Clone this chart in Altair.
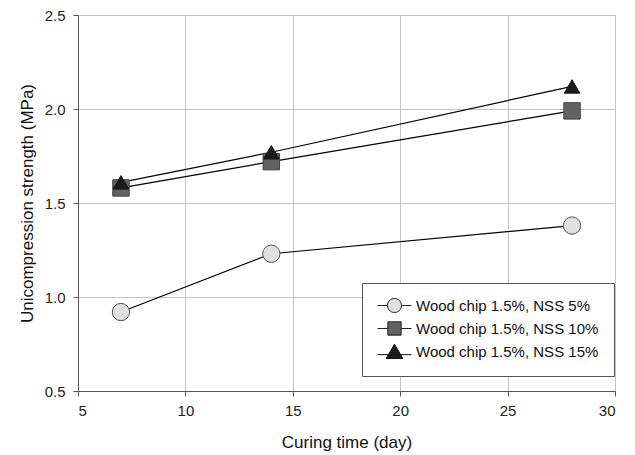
import altair as alt
import pandas as pd

days = [7, 14, 28]
series_names = ["Wood chip 1.5%, NSS 5%", "Wood chip 1.5%, NSS 10%", "Wood chip 1.5%, NSS 15%"]
nss5 = [0.92, 1.23, 1.38]
nss10 = [1.58, 1.72, 1.99]
nss15 = [1.61, 1.77, 2.12]

rows = []
for name, vals in zip(series_names, [nss5, nss10, nss15]):
    for d, v in zip(days, vals):
        rows.append({"day": d, "strength": v, "series": name})
df = pd.DataFrame(rows)

fills = ["#e0e0e0", "#626262", "#1c1c1c"]
strokes = ["#555555", "#444444", "#111111"]
FONT = "Liberation Sans"

x = alt.X("day:Q", title="Curing time (day)",
          scale=alt.Scale(domain=[5, 30], nice=False),
          axis=alt.Axis(values=[5, 10, 15, 20, 25, 30]))
y = alt.Y("strength:Q", title="Unicompression strength (MPa)",
          scale=alt.Scale(domain=[0.5, 2.5], nice=False),
          axis=alt.Axis(values=[0.5, 1.0, 1.5, 2.0, 2.5], format=".1f"))

base = alt.Chart(df)

lines = base.mark_line(color="black", strokeWidth=1.2).encode(
    x=x, y=y, detail="series:N"
)

points = base.mark_point(filled=True, opacity=1, strokeWidth=1).encode(
    x=x, y=y,
    shape=alt.Shape("series:N", scale=alt.Scale(domain=series_names,
                    range=["circle", "square", "triangle-up"]), legend=None),
    fill=alt.Fill("series:N", scale=alt.Scale(domain=series_names, range=fills), legend=None),
    stroke=alt.Stroke("series:N", scale=alt.Scale(domain=series_names, range=strokes), legend=None),
    size=alt.Size("series:N", scale=alt.Scale(domain=series_names, range=[300, 240, 400]), legend=None),
)

# legend symbols: unit = 7px (symbolSize 196); symbol centre placed at 7px from entry left,
# so drawn span -1..3.857 units (0..34px), marker centred at 1.4286 units (17px)
c = 1.4286
circle_path = (f"M-1,0L{c-1:.4f},0M{c+1:.4f},0L3.857,0"
               f"M{c-1:.4f},0A1,1,0,1,1,{c+1:.4f},0A1,1,0,1,1,{c-1:.4f},0Z")
square_path = (f"M-1,0L{c-0.95:.4f},0M{c+0.95:.4f},0L3.857,0"
               f"M{c-0.95:.4f},-0.95L{c+0.95:.4f},-0.95L{c+0.95:.4f},0.95L{c-0.95:.4f},0.95Z")
tri_path = (f"M-1,0.45L{c-0.6:.4f},0.45M{c+0.6:.4f},0.45L3.857,0.45"
            f"M{c:.4f},-1.05L{c+1.2:.4f},1.0L{c-1.2:.4f},1.0Z")

legend_props = dict(title=None, orient="none", legendX=284, legendY=268,
                    symbolSize=196, symbolStrokeColor="#222222",
                    symbolStrokeWidth=1, symbolOpacity=1,
                    labelFontSize=15, labelFont=FONT, labelColor="#111111",
                    labelLimit=400, labelOffset=24,
                    strokeColor="#555555", fillColor="white",
                    padding=15, rowPadding=4)

legend_layer = base.transform_filter("datum.day < 0").mark_point(
    filled=True, opacity=1, strokeWidth=1
).encode(
    x=x, y=y,
    shape=alt.Shape("series:N", scale=alt.Scale(domain=series_names,
                    range=[circle_path, square_path, tri_path]),
                    legend=alt.Legend(**legend_props)),
    fill=alt.Fill("series:N", scale=alt.Scale(domain=series_names, range=fills),
                  legend=alt.Legend(**legend_props)),
    stroke=alt.Stroke("series:N", scale=alt.Scale(domain=series_names,
                      range=["#222222", "#222222", "#111111"]),
                      legend=alt.Legend(**legend_props)),
)

chart = alt.layer(lines, points, legend_layer).resolve_scale(
    shape="independent", fill="independent", stroke="independent"
).properties(
    width=537, height=376,
    autosize=alt.AutoSizeParams(type="none"),
    padding={"left": 70, "top": 7, "right": 12, "bottom": 62},
).configure_view(
    stroke="#8a8a8a", strokeWidth=1
).configure_axis(
    gridColor="#c4c4c4", gridWidth=1,
    domainColor="#555555", tickColor="#555555", tickSize=5,
    labelFont=FONT, labelFontSize=15, labelColor="#222222",
    titleFont=FONT, titleFontSize=17, titleFontWeight="normal", titleColor="#111111",
).configure_axisX(
    labelPadding=7, titlePadding=16
).configure_axisY(
    labelPadding=8, titlePadding=8
)

chart.save("out.html", embed_options={"renderer": "svg", "actions": False})
